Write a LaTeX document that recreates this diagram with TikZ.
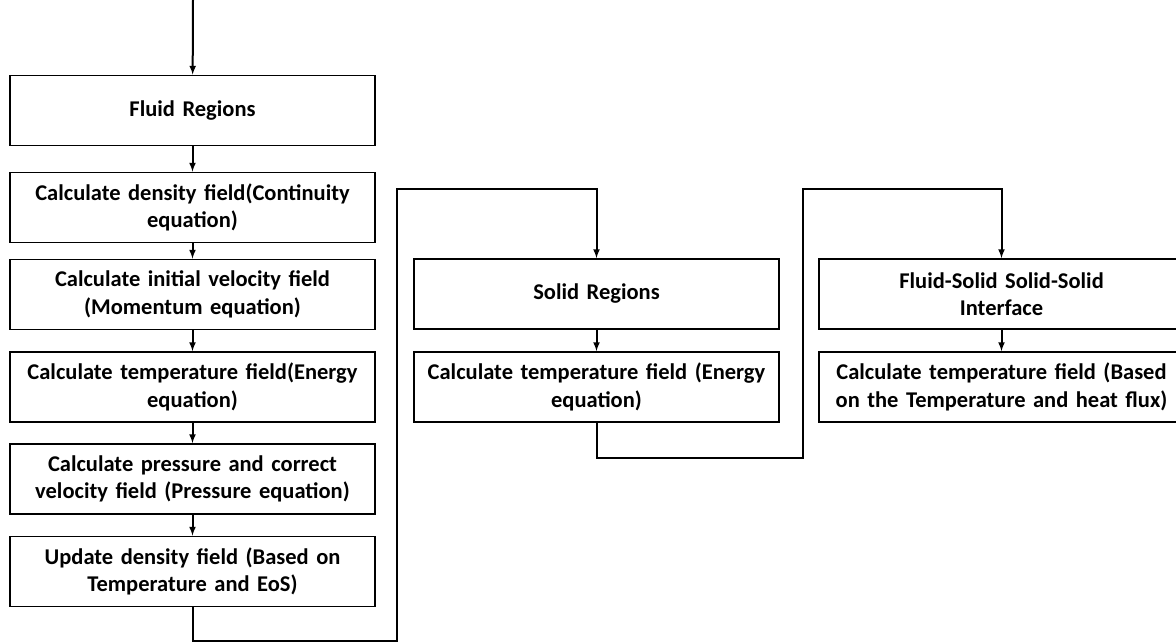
\documentclass[tikz,border=0pt]{standalone}
\usepackage{fontspec}
\setmainfont{Carlito}
\usetikzlibrary{arrows,positioning}

\begin{document}
\begin{tikzpicture}[x=1pt,y=-1pt,
  box/.style={draw,line width=1.8pt,minimum width=365pt,minimum height=70pt,
    text width=352pt,align=center,inner sep=0pt,
    font=\fontsize{22.5}{27.5}\selectfont\bfseries},
  flow/.style={line width=2pt,-latex}]
\path[use as bounding box,clip] (0,0) rectangle (1176,643);
% fluid column
\coordinate (start) at (193,0);
\node[box] (fluid) at (192.5,110.5) {Fluid Regions};
\node[box] (dens) at (192.5,207.5) {Calculate density field(Continuity\\ equation)};
\node[box] (vel) at (192.5,294.5) {Calculate initial velocity field\\ (Momentum equation)};
\node[box] (temp) at (192.5,387) {Calculate temperature field(Energy\\ equation)};
\node[box] (press) at (192.5,479) {Calculate pressure and correct\\ velocity field (Pressure equation)};
\node[box] (upd) at (192.5,571.5) {Update density field (Based on\\ Temperature and EoS)};
% solid column
\node[box] (solid) at (596.5,294) {Solid Regions};
\node[box] (stemp) at (596.5,387) {Calculate temperature field (Energy\\ equation)};
% interface column
\node[box] (iface) at (1001.5,294) {Fluid-Solid Solid-Solid\\ Interface};
\node[box] (itemp) at (1001.5,387) {Calculate temperature field (Based\\ on the Temperature and heat flux)};
% loop corners
\coordinate (a1) at (397,641);
\coordinate (a2) at (397,189);
\coordinate (b1) at (803,458);
\coordinate (b2) at (803,189);

\draw[flow] (start) -- (fluid);
\draw[flow] (fluid) -- (dens);
\draw[flow] (dens) -- (vel);
\draw[flow] (vel) -- (temp);
\draw[flow] (temp) -- (press);
\draw[flow] (press) -- (upd);
\draw[flow] (upd.south) |- (a1) -- (a2) -| (solid.north);
\draw[flow] (solid) -- (stemp);
\draw[flow] (stemp.south) |- (b1) -- (b2) -| (iface.north);
\draw[flow] (iface) -- (itemp);
\end{tikzpicture}
\end{document}
